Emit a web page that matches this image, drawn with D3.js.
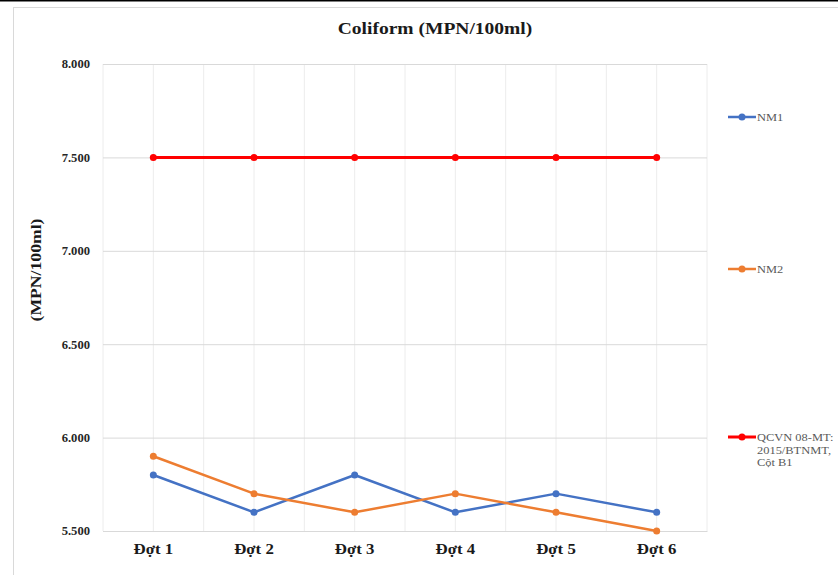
<!DOCTYPE html>
<html><head><meta charset="utf-8">
<script src="https://cdn.jsdelivr.net/npm/d3@7"></script>
<style>
html,body{margin:0;padding:0;background:#fff;}
svg{display:block;}
text{font-family:"Liberation Serif","Times New Roman",serif;}
</style></head>
<body>
<svg id="c" width="838" height="575"></svg>
<script>
const categories = ["Đợt 1","Đợt 2","Đợt 3","Đợt 4","Đợt 5","Đợt 6"];
const nm1 = [5.8, 5.6, 5.8, 5.6, 5.7, 5.6];
const nm2 = [5.9, 5.7, 5.6, 5.7, 5.6, 5.5];
const qcvn = [7.5, 7.5, 7.5, 7.5, 7.5, 7.5];
const yTicks = [5.5, 6.0, 6.5, 7.0, 7.5, 8.0];
const seriesNames = ["NM1", "NM2", ["QCVN 08-MT:", "2015/BTNMT,", "Cột B1"]];
const seriesColors = ["#4472c4", "#ed7d31", "#ff0000"];

const svg = d3.select("#c");
function stretch(sel, f){
  sel.each(function(){
    const w = this.getComputedTextLength();
    if (w>0) d3.select(this).attr("textLength", w*f).attr("lengthAdjust","spacingAndGlyphs");
  });
}
// frame
svg.append("line").attr("x1",0).attr("x2",838).attr("y1",0.5).attr("y2",0.5).attr("stroke","#000").attr("stroke-width",2);
svg.append("rect").attr("x",13.5).attr("y",7.5).attr("width",830).attr("height",580).attr("fill","none").attr("stroke","#d9d9d9");

const L=103, R=707, T=64, B=531;
const x = d3.scaleBand().domain(categories).range([L,R]);
const y = d3.scaleLinear().domain([5.5,8.0]).range([B,T]);

// vertical gridlines (band edges + centers)
const vx = [];
categories.forEach(c => { vx.push(x(c)); vx.push(x(c)+x.bandwidth()/2); });
vx.push(R);
svg.append("g").selectAll("line").data(vx).join("line")
  .attr("x1",d=>d).attr("x2",d=>d).attr("y1",T).attr("y2",B)
  .attr("stroke","#ececec").attr("stroke-width",1);

// horizontal gridlines via axis
const yAxis = d3.axisLeft(y).tickValues(yTicks).tickSize(-(R-L)).tickFormat(d3.format(".3f"));
const gy = svg.append("g").attr("transform",`translate(${L},0)`).call(yAxis);
gy.select(".domain").remove();
gy.selectAll(".tick line").attr("stroke","#d9d9d9");
gy.selectAll(".tick text").attr("x",-13).attr("font-size",12).attr("font-weight","bold").attr("fill","#262626")
  .style("font-family","'Liberation Serif',serif");
stretch(gy.selectAll(".tick text"), 1.05);

// x axis labels
const xAxis = d3.axisBottom(x).tickSize(0).tickPadding(13);
const gx = svg.append("g").attr("transform",`translate(0,${B})`).call(xAxis);
gx.select(".domain").attr("stroke","#d9d9d9");
gx.selectAll(".tick text").attr("font-size",14).attr("font-weight","bold").attr("fill","#1a1a1a")
  .style("font-family","'Liberation Serif',serif");
stretch(gx.selectAll(".tick text"), 1.2);

// lines
const line = d3.line().x((d,i)=>x(categories[i])+x.bandwidth()/2).y(d=>y(d));
[nm1, nm2, qcvn].forEach((s,k)=>{
  svg.append("path").datum(s).attr("d",line).attr("fill","none")
    .attr("stroke",seriesColors[k]).attr("stroke-width", k===2?3:2.5).attr("stroke-linejoin","round");
  svg.append("g").selectAll("circle").data(s).join("circle")
    .attr("cx",(d,i)=>x(categories[i])+x.bandwidth()/2).attr("cy",d=>y(d))
    .attr("r",3.5).attr("fill",seriesColors[k]);
});

// title
const title = svg.append("text").attr("x",435).attr("y",34).attr("text-anchor","middle")
  .attr("font-size",16).attr("font-weight","bold").attr("fill","#1a1a1a").text("Coliform (MPN/100ml)");
stretch(title, 1.22);
// y title
const yt = svg.append("text").attr("transform","translate(41,270) rotate(-90)").attr("text-anchor","middle")
  .attr("font-size",14).attr("font-weight","bold").attr("fill","#1a1a1a").text("(MPN/100ml)");
stretch(yt, 1.26);

// legend
const legY = [117, 269, 437];
seriesNames.forEach((n,k)=>{
  const g = svg.append("g").attr("transform",`translate(728,${legY[k]})`);
  g.append("line").attr("x1",0).attr("x2",28).attr("stroke",seriesColors[k]).attr("stroke-width",k===2?3:2.5);
  g.append("circle").attr("cx",14).attr("r",3.5).attr("fill",seriesColors[k]);
  const lines = Array.isArray(n)?n:[n];
  lines.forEach((ln,i)=>{
    const t = g.append("text").attr("x",29).attr("y",4+i*12.5).attr("font-size",11).attr("fill","#595959").text(ln);
    stretch(t, 1.13);
  });
});
</script>
</body></html>
